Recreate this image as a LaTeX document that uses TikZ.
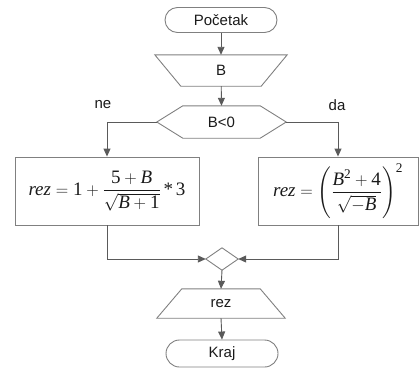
\documentclass[tikz,border=0pt]{standalone}
\usepackage{fontspec}
\usepackage{amsmath}
\setmainfont{Liberation Sans}
\newfontfamily\tnr{Liberation Serif}
\usetikzlibrary{arrows.meta,calc}

% formula helpers: italic variables and upright numbers in a Times-like face
\newcommand{\mv}[1]{\text{\tnr\itshape #1}}
\newcommand{\mn}[1]{\text{\tnr #1}}

\definecolor{edgegray}{HTML}{808080}
\definecolor{flowgray}{HTML}{5A5A5A}
\definecolor{inkgray}{HTML}{1A1A1A}

\tikzset{
  lbl/.style={font=\fontsize{15}{18}\selectfont, text=inkgray, inner sep=0pt},
  term/.style={lbl, draw=edgegray, line width=0.9pt, rounded corners=12.5pt,
               minimum width=112pt, minimum height=25pt},
  blank/.style={lbl, minimum width=#1, inner sep=0pt},
  outline/.style={draw=edgegray, line width=0.9pt},
  procbox/.style={draw=edgegray, line width=0.9pt, text=inkgray, inner sep=0pt,
                  font=\fontsize{19}{22}\selectfont},
  flow/.style={draw=flowgray, line width=0.9pt,
               -{Triangle[length=8pt,width=7pt]}},
}

\begin{document}
\begin{tikzpicture}[x=1pt,y=-1pt]
\useasboundingbox (0,0) rectangle (419,370);

% terminals, input/output, decision and merge point
\node[term] (start) at (221,20) {Početak};
\node[blank=132pt, minimum height=31pt] (in) at (221,70.5) {B};
\draw[outline] (in.north west) -- (in.north east)
  -- ([xshift=-26pt]in.south east) -- ([xshift=26pt]in.south west) -- cycle;

\node[blank=129pt, minimum height=32pt] (cond) at (221.5,122) {B<0};
\draw[outline] (cond.west) -- ([xshift=26pt]cond.north west)
  -- ([xshift=-26pt]cond.north east) -- (cond.east)
  -- ([xshift=-26pt]cond.south east) -- ([xshift=26pt]cond.south west) -- cycle;

\node[procbox, minimum width=184pt, minimum height=68pt] (left) at (107,191)
  {$\mv{rez}=\mn{1}+\dfrac{\mn{5}+\mv{B}}{\sqrt{\mv{B}+\mn{1}}}\,\mn{*}\,\mn{3}$};
\node[procbox, minimum width=160pt, minimum height=68pt] (right) at (338,191)
  {$\mv{rez}=\left(\dfrac{\mv{B}^{\mn{2}}+\mn{4}}{\sqrt{-\mv{B}}}\right)^{\mn{2}}$};

\node[blank=32pt, minimum height=22pt] (merge) at (222,259) {};
\draw[outline] (merge.west) -- (merge.north) -- (merge.east) -- (merge.south) -- cycle;

\node[blank=128pt, minimum height=29pt] (out) at (221,303.5) {rez};
\draw[outline] ([xshift=25pt]out.north west) -- ([xshift=-25pt]out.north east)
  -- (out.south east) -- (out.south west) -- cycle;

\node[term, minimum height=27pt, rounded corners=13.5pt] (end) at (222,353.5) {Kraj};

% branch labels
\node[lbl] (ne) at (103,105) {ne};
\node[lbl] (da) at (337,105) {da};

% connectors
\draw[flow] (start) -- (in.north);
\draw[flow] (in) -- (cond.north);
\draw[flow] (cond.west) -| (left.north);
\draw[flow] (cond.east) -| (right.north);
\draw[flow] (left.south) |- (merge.west);
\draw[flow] (right.south) |- (merge.east);
\draw[flow] (merge.south) -- (out.north);
\draw[flow] (out.south) -- (end.north);
\end{tikzpicture}
\end{document}
